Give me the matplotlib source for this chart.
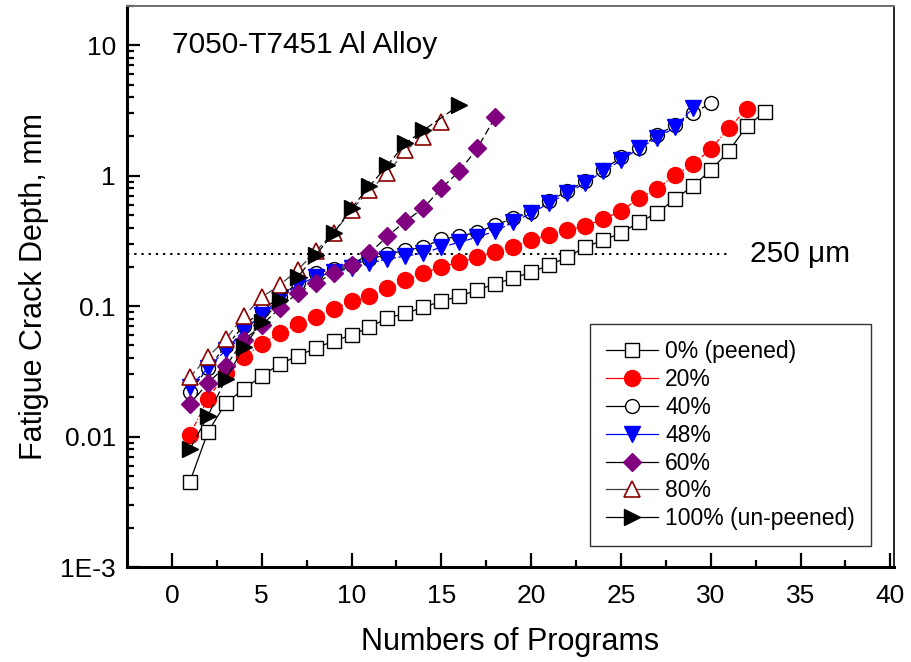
import numpy as np
import matplotlib
matplotlib.use("Agg")
import matplotlib.pyplot as plt
from matplotlib.ticker import FixedLocator, FixedFormatter, LogLocator, NullFormatter

plt.rcParams['font.family'] = ['Liberation Sans', 'DejaVu Sans']

# program numbers for each series
n_0 = list(range(1, 34))
n_20 = list(range(1, 33))
n_40 = list(range(1, 31))
n_48 = list(range(1, 30))
n_60 = list(range(1, 19))
n_80 = list(range(1, 16))
n_100 = list(range(1, 15)) + [16]

# crack depth, mm
d_0 = [0.0045, 0.0108, 0.0181, 0.0231, 0.0291, 0.036, 0.0414, 0.0477, 0.054, 0.060,
       0.069, 0.081, 0.088, 0.098, 0.109, 0.119, 0.133, 0.148, 0.164, 0.182,
       0.206, 0.237, 0.283, 0.321, 0.362, 0.44, 0.516, 0.661, 0.832, 1.10,
       1.54, 2.39, 3.07]
d_20 = [0.0103, 0.0194, 0.0307, 0.0407, 0.0512, 0.0621, 0.0728, 0.0824, 0.0948, 0.109,
        0.119, 0.137, 0.158, 0.179, 0.199, 0.217, 0.237, 0.259, 0.283, 0.321,
        0.350, 0.382, 0.410, 0.465, 0.535, 0.673, 0.789, 1.01, 1.22, 1.60,
        2.31, 3.23]
d_40 = [0.0219, 0.0335, 0.0493, 0.0703, 0.0931, 0.117, 0.150, 0.179, 0.192, 0.206,
        0.229, 0.250, 0.268, 0.283, 0.326, 0.343, 0.369, 0.418, 0.472, 0.525,
        0.638, 0.760, 0.908, 1.10, 1.39, 1.62, 2.04, 2.44, 3.01, 3.59]
d_48 = [0.0239, 0.0335, 0.046, 0.0655, 0.0853, 0.115, 0.145, 0.167, 0.182, 0.195,
        0.214, 0.229, 0.242, 0.255, 0.283, 0.309, 0.338, 0.376, 0.44, 0.516,
        0.615, 0.734, 0.877, 1.08, 1.31, 1.62, 1.94, 2.35, 3.29]
d_60 = [0.0177, 0.0257, 0.0347, 0.0548, 0.0714, 0.0966, 0.126, 0.150, 0.179, 0.206,
        0.255, 0.343, 0.448, 0.564, 0.802, 1.08, 1.62, 2.81]
d_80 = [0.0286, 0.0407, 0.0558, 0.0837, 0.117, 0.145, 0.189, 0.264, 0.362, 0.545,
        0.774, 1.04, 1.57, 1.97, 2.57]
d_100 = [0.0080, 0.0144, 0.0276, 0.0485, 0.0753, 0.111, 0.167, 0.246, 0.362, 0.564,
         0.832, 1.20, 1.77, 2.23, 3.47]

threshold = 0.25
ytick_vals = [1e-3, 1e-2, 1e-1, 1, 10]
ytick_labels = ['1E-3', '0.01', '0.1', '1', '10']

fig = plt.figure(figsize=(9.11, 6.62), dpi=100)
ax = fig.add_axes([0.1394, 0.1435, 0.8419, 0.8474])

ax.plot([-2.5, 31], [threshold, threshold], color='black', linestyle=(0, (1.2, 2.5)), lw=1.4)

ax.plot(n_0, d_0, color='black', lw=0.9, marker='s', ms=9.5, mfc='white', mec='black', mew=1.0,
        label='0% (peened)')
ax.plot(n_20, d_20, color='red', lw=0.9, ls=(0, (4, 1.5, 1, 1.5)), marker='o', ms=11.5, mfc='red', mec='red',
        label='20%')
ax.plot(n_40, d_40, color='black', lw=0.9, ls=(0, (3, 2)), marker='o', ms=10, mfc='white', mec='black', mew=1.0,
        label='40%')
ax.plot(n_48, d_48, color='blue', lw=0.9, ls=(0, (5, 2)), marker='v', ms=11, mfc='blue', mec='blue',
        label='48%')
ax.plot(n_60, d_60, color='black', lw=0.9, ls=(0, (6, 3)), marker='D', ms=9, mfc='#800080', mec='#800080',
        label='60%')
ax.plot(n_80, d_80, color='#404040', lw=0.9, ls=(0, (6, 3)), marker='^', ms=11, mfc='white', mec='#8B0000', mew=1.2,
        label='80%')
ax.plot(n_100, d_100, color='black', lw=0.9, ls=(0, (8, 3)), marker='>', ms=11, mfc='black', mec='black',
        label='100% (un-peened)')

ax.set_yscale('log')
ax.set_ylim(1e-3, 20)
ax.set_xlim(-2.5, 40.2)

ax.yaxis.set_major_locator(FixedLocator(ytick_vals))
ax.yaxis.set_major_formatter(FixedFormatter(ytick_labels))
ax.yaxis.set_minor_locator(LogLocator(base=10, subs=np.arange(2, 10)))
ax.yaxis.set_minor_formatter(NullFormatter())
ax.xaxis.set_major_locator(FixedLocator([0, 5, 10, 15, 20, 25, 30, 35, 40]))
ax.xaxis.set_minor_locator(FixedLocator([2.5, 7.5, 12.5, 17.5, 22.5, 27.5, 32.5, 37.5]))

ax.tick_params(which='both', direction='in', top=False, right=False, labelsize=19, width=1.6)
ax.tick_params(axis='y', which='major', length=9, pad=8)
ax.tick_params(axis='y', which='minor', length=5)
ax.tick_params(axis='x', which='major', length=10, pad=12)
ax.tick_params(axis='x', which='minor', length=5)

ax.spines['left'].set_linewidth(2.2)
ax.spines['bottom'].set_linewidth(2.2)
ax.spines['top'].set_linewidth(1.4)
ax.spines['top'].set_color('#707070')
ax.spines['right'].set_linewidth(1.2)

ax.set_xlabel('Numbers of Programs', fontsize=22, labelpad=14)
ax.set_ylabel('Fatigue Crack Depth, mm', fontsize=22, labelpad=8)

ax.text(0.0, 10, '7050-T7451 Al Alloy', fontsize=21.5, va='center', ha='left')
ax.text(32.2, threshold, '250 \u03bcm', fontsize=21.5, va='center', ha='left')

leg = ax.legend(loc='lower right', bbox_to_anchor=(0.970, 0.037), fontsize=16.5, frameon=True,
                fancybox=False, edgecolor='black', handlelength=2.3, handletextpad=0.3,
                labelspacing=0.21, borderpad=0.7, borderaxespad=0)
leg.get_frame().set_linewidth(1.0)
for line in leg.get_lines():
    line.set_linestyle('-')

fig.savefig('out.png', dpi=100)
